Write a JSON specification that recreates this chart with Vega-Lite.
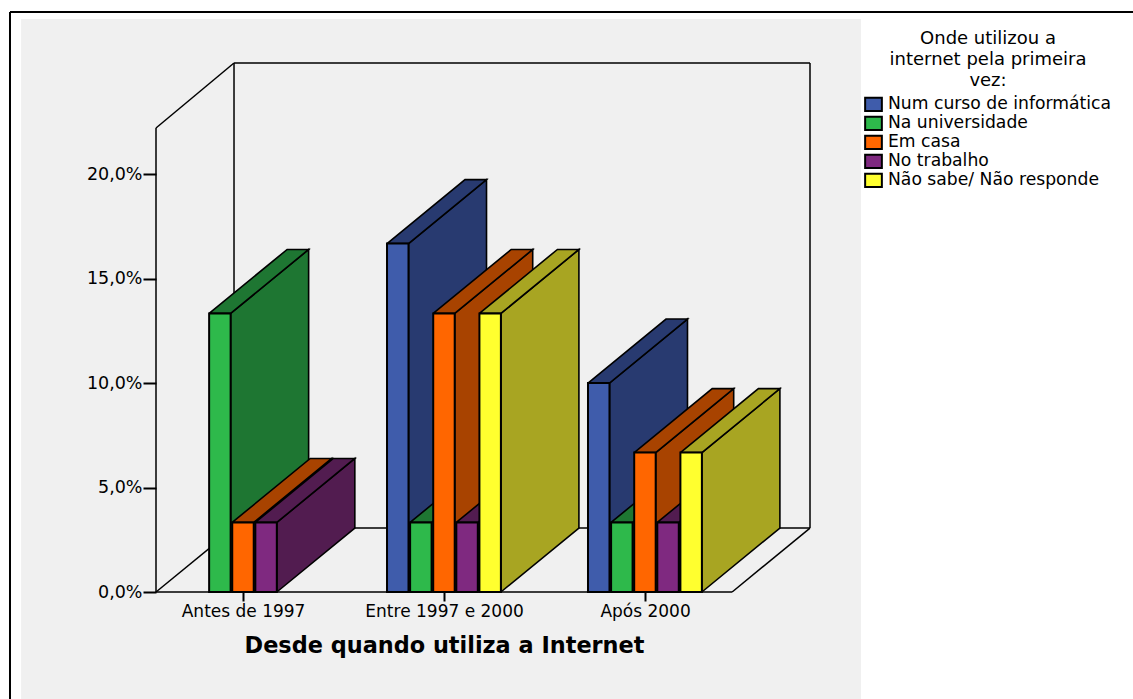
{
  "$schema": "https://vega.github.io/schema/vega-lite/v6.json",
  "width": 654,
  "height": 530,
  "autosize": "none",
  "padding": {"left": 156, "top": 62, "right": 323, "bottom": 107},
  "background": "white",
  "datasets": {
    "painel": [{}],
    "respostas": [
      {"periodo": "Antes de 1997", "local": "Na universidade", "percent": 13.33},
      {"periodo": "Antes de 1997", "local": "Em casa", "percent": 3.33},
      {"periodo": "Antes de 1997", "local": "No trabalho", "percent": 3.33},
      {"periodo": "Entre 1997 e 2000", "local": "Num curso de informática", "percent": 16.67},
      {"periodo": "Entre 1997 e 2000", "local": "Na universidade", "percent": 3.33},
      {"periodo": "Entre 1997 e 2000", "local": "Em casa", "percent": 13.33},
      {"periodo": "Entre 1997 e 2000", "local": "No trabalho", "percent": 3.33},
      {"periodo": "Entre 1997 e 2000", "local": "Não sabe/ Não responde", "percent": 13.33},
      {"periodo": "Após 2000", "local": "Num curso de informática", "percent": 10},
      {"periodo": "Após 2000", "local": "Na universidade", "percent": 3.33},
      {"periodo": "Após 2000", "local": "Em casa", "percent": 6.67},
      {"periodo": "Após 2000", "local": "No trabalho", "percent": 3.33},
      {"periodo": "Após 2000", "local": "Não sabe/ Não responde", "percent": 6.67}
    ]
  },
  "config": {
    "view": {"stroke": null},
    "font": "DejaVu Sans"
  },
  "resolve": {"scale": {"fill": "independent"}},
  "layer": [
    {
      "description": "Grey chart panel with the category and value axes",
      "data": {"name": "painel"},
      "mark": {"type": "rect", "fill": "#f0f0f0", "stroke": null},
      "encoding": {
        "x": {
          "datum": -5.84,
          "type": "quantitative",
          "scale": {"domain": [0, 28.31], "nice": false, "zero": false},
          "axis": {
            "values": [3.77, 12.47, 21.17],
            "labelExpr": "datum.value < 5 ? 'Antes de 1997' : datum.value < 15 ? 'Entre 1997 e 2000' : 'Após 2000'",
            "title": "Desde quando utiliza a Internet",
            "titleFont": "DejaVu Sans",
            "titleFontWeight": "bold",
            "titleFontSize": 22.4,
            "titleColor": "black",
            "titleX": 288,
            "titleY": 53,
            "titleAnchor": "middle",
            "titleAlign": "center",
            "titleBaseline": "middle",
            "labelFontSize": 17,
            "labelColor": "black",
            "labelPadding": 2,
            "labelBaseline": "top",
            "labelOverlap": false,
            "labelFlush": false,
            "tickSize": 9,
            "tickWidth": 2,
            "tickColor": "black",
            "grid": false,
            "domain": false,
            "zindex": 1
          }
        },
        "x2": {"datum": 30.52},
        "y": {
          "datum": -5.12,
          "type": "quantitative",
          "scale": {"domain": [0, 25.36], "nice": false, "zero": false},
          "axis": {
            "values": [0, 5, 10, 15, 20],
            "labelExpr": "replace(format(datum.value, '.1f'), '.', ',') + '%'",
            "title": null,
            "labelFontSize": 17.5,
            "labelColor": "black",
            "labelPadding": 1,
            "tickSize": 13,
            "tickWidth": 2,
            "tickColor": "black",
            "grid": false,
            "domain": false,
            "zindex": 1
          }
        },
        "y2": {"datum": 27.42}
      }
    },
    {
      "description": "Outer frame, left and top edges",
      "data": {"name": "painel"},
      "mark": {"type": "rule", "stroke": "black", "strokeWidth": 2},
      "encoding": {"x": {"datum": -6.32, "type": "quantitative"}, "y": {"datum": -5.12, "type": "quantitative"}, "y2": {"datum": 27.75}}
    },
    {
      "data": {"name": "painel"},
      "mark": {"type": "rule", "stroke": "black", "strokeWidth": 2},
      "encoding": {"x": {"datum": -6.32, "type": "quantitative"}, "x2": {"datum": 42.3}, "y": {"datum": 27.75, "type": "quantitative"}}
    },
    {
      "description": "Floor and walls of the box",
      "data": {"name": "painel"},
      "mark": {"type": "rule", "stroke": "black", "strokeWidth": 1.5},
      "encoding": {"x": {"datum": 0, "type": "quantitative"}, "x2": {"datum": 24.94}, "y": {"datum": 0, "type": "quantitative"}}
    },
    {
      "data": {"name": "painel"},
      "mark": {"type": "rule", "stroke": "black", "strokeWidth": 1.5},
      "encoding": {"x": {"datum": 24.94, "type": "quantitative"}, "x2": {"datum": 28.31}, "y": {"datum": 0, "type": "quantitative"}, "y2": {"datum": 3.06}}
    },
    {
      "data": {"name": "painel"},
      "mark": {"type": "rule", "stroke": "black", "strokeWidth": 1.5},
      "encoding": {"x": {"datum": 3.377, "type": "quantitative"}, "x2": {"datum": 28.31}, "y": {"datum": 3.06, "type": "quantitative"}}
    },
    {
      "data": {"name": "painel"},
      "mark": {"type": "rule", "stroke": "black", "strokeWidth": 1.5},
      "encoding": {"x": {"datum": 0, "type": "quantitative"}, "x2": {"datum": 3.377}, "y": {"datum": 0, "type": "quantitative"}, "y2": {"datum": 3.06}}
    },
    {
      "data": {"name": "painel"},
      "mark": {"type": "rule", "stroke": "black", "strokeWidth": 1.5},
      "encoding": {"x": {"datum": 3.377, "type": "quantitative"}, "y": {"datum": 3.06, "type": "quantitative"}, "y2": {"datum": 25.31}}
    },
    {
      "data": {"name": "painel"},
      "mark": {"type": "rule", "stroke": "black", "strokeWidth": 1.5},
      "encoding": {"x": {"datum": 28.31, "type": "quantitative"}, "y": {"datum": 3.06, "type": "quantitative"}, "y2": {"datum": 25.31}}
    },
    {
      "data": {"name": "painel"},
      "mark": {"type": "rule", "stroke": "black", "strokeWidth": 1.5},
      "encoding": {"x": {"datum": 3.377, "type": "quantitative"}, "x2": {"datum": 28.31}, "y": {"datum": 25.31, "type": "quantitative"}}
    },
    {
      "data": {"name": "painel"},
      "mark": {"type": "rule", "stroke": "black", "strokeWidth": 1.5},
      "encoding": {"x": {"datum": 0, "type": "quantitative"}, "y": {"datum": 0, "type": "quantitative"}, "y2": {"datum": 22.2}}
    },
    {
      "data": {"name": "painel"},
      "mark": {"type": "rule", "stroke": "black", "strokeWidth": 1.5},
      "encoding": {"x": {"datum": 0, "type": "quantitative"}, "x2": {"datum": 3.377}, "y": {"datum": 22.2, "type": "quantitative"}, "y2": {"datum": 25.31}}
    },
    {
      "description": "Side and top faces of each bar, projected obliquely and painted left to right",
      "data": {"name": "respostas"},
      "transform": [
        {"calculate": "indexof(['Antes de 1997', 'Entre 1997 e 2000', 'Após 2000'], datum.periodo)", "as": "grupo"},
        {"calculate": "indexof(['Num curso de informática', 'Na universidade', 'Em casa', 'No trabalho', 'Não sabe/ Não responde'], datum.local)", "as": "serie"},
        {"calculate": "1.3 + 8.7 * datum.grupo + datum.serie", "as": "x0"},
        {"calculate": "datum.x0 + 0.93", "as": "x1"},
        {"calculate": "['lateral', 'topo']", "as": "face"},
        {"flatten": ["face"]},
        {"calculate": "datum.periodo + ' / ' + datum.local + ' / ' + datum.face", "as": "poligono"},
        {"calculate": "[0, 1, 2, 3, 4]", "as": "canto"},
        {"flatten": ["canto"]},
        {"calculate": "datum.face === 'lateral' ? [datum.x1, datum.x1 + 3.377, datum.x1 + 3.377, datum.x1, datum.x1][datum.canto] : [datum.x0, datum.x1, datum.x1 + 3.377, datum.x0 + 3.377, datum.x0][datum.canto]", "as": "px"},
        {"calculate": "datum.face === 'lateral' ? [0, 3.06, datum.percent + 3.06, datum.percent, 0][datum.canto] : [datum.percent, datum.percent, datum.percent + 3.06, datum.percent + 3.06, datum.percent][datum.canto]", "as": "py"}
      ],
      "mark": {"type": "line", "stroke": "black", "strokeWidth": 1.6, "strokeJoin": "miter", "interpolate": "linear"},
      "encoding": {
        "x": {"field": "px", "type": "quantitative"},
        "y": {"field": "py", "type": "quantitative"},
        "order": {"field": "canto"},
        "detail": {"field": "poligono"},
        "fill": {
          "field": "local",
          "type": "nominal",
          "legend": null,
          "scale": {
            "domain": ["Num curso de informática", "Na universidade", "Em casa", "No trabalho", "Não sabe/ Não responde"],
            "range": ["#283a70", "#1e7632", "#a84300", "#521c50", "#a8a522"]
          }
        }
      }
    },
    {
      "description": "Front faces of the bars",
      "data": {"name": "respostas"},
      "transform": [
        {"calculate": "indexof(['Antes de 1997', 'Entre 1997 e 2000', 'Após 2000'], datum.periodo)", "as": "grupo"},
        {"calculate": "indexof(['Num curso de informática', 'Na universidade', 'Em casa', 'No trabalho', 'Não sabe/ Não responde'], datum.local)", "as": "serie"},
        {"calculate": "1.3 + 8.7 * datum.grupo + datum.serie", "as": "x0"},
        {"calculate": "datum.x0 + 0.93", "as": "x1"}
      ],
      "mark": {"type": "rect", "stroke": "black", "strokeWidth": 2},
      "encoding": {
        "x": {"field": "x0", "type": "quantitative"},
        "x2": {"field": "x1"},
        "y": {"field": "percent", "type": "quantitative"},
        "y2": {"datum": 0},
        "fill": {
          "field": "local",
          "type": "nominal",
          "scale": {
            "domain": ["Num curso de informática", "Na universidade", "Em casa", "No trabalho", "Não sabe/ Não responde"],
            "range": ["#3f5cab", "#2eb94b", "#ff6600", "#7f2980", "#ffff2f"]
          },
          "legend": {
            "orient": "none",
            "legendX": 708,
            "legendY": -32,
            "title": ["Onde utilizou a", "internet pela primeira", "vez:"],
            "titleFontSize": 18,
            "titleFontWeight": "normal",
            "titleColor": "black",
            "titleLineHeight": 21,
            "titleAnchor": "middle",
            "titleAlign": "center",
            "titleLimit": 400,
            "titlePadding": 5,
            "labelFontSize": 17.2,
            "labelColor": "black",
            "labelOffset": 5,
            "labelLimit": 300,
            "symbolType": "M-1,-0.8H1V0.8H-1Z",
            "symbolSize": 280,
            "symbolStrokeColor": "black",
            "symbolStrokeWidth": 2,
            "symbolOpacity": 1,
            "rowPadding": 0,
            "clipHeight": 18.7,
            "sort": null
          }
        }
      }
    }
  ]
}
